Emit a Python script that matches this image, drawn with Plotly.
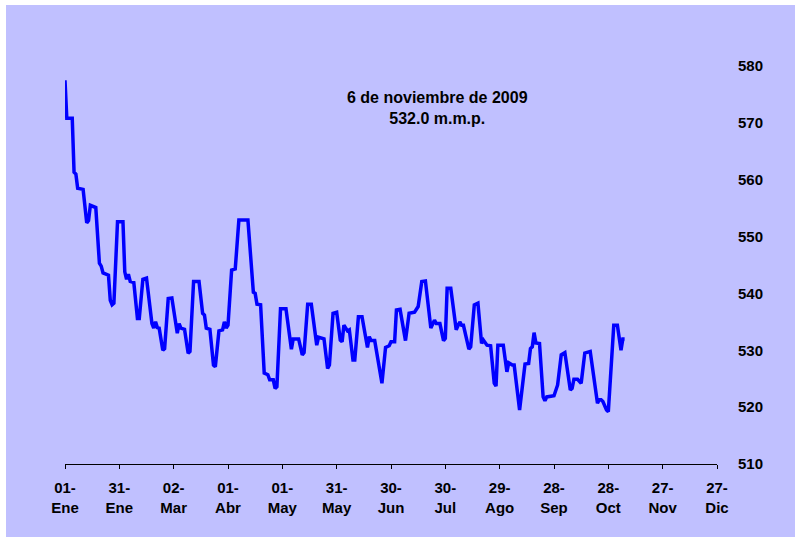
import plotly.graph_objects as go

dates = [
    "2009-01-01", "2009-01-02", "2009-01-05", "2009-01-06", "2009-01-07", "2009-01-08", "2009-01-11",
    "2009-01-13", "2009-01-14", "2009-01-15", "2009-01-18", "2009-01-20", "2009-01-21", "2009-01-22",
    "2009-01-25", "2009-01-26", "2009-01-27", "2009-01-28", "2009-01-30", "2009-02-02", "2009-02-03",
    "2009-02-04", "2009-02-05", "2009-02-06", "2009-02-08", "2009-02-10", "2009-02-11", "2009-02-13",
    "2009-02-15", "2009-02-18", "2009-02-19", "2009-02-20", "2009-02-21", "2009-02-22", "2009-02-24",
    "2009-02-25", "2009-02-27", "2009-03-01", "2009-03-04", "2009-03-05", "2009-03-06", "2009-03-08",
    "2009-03-10", "2009-03-11", "2009-03-13", "2009-03-16", "2009-03-18", "2009-03-19", "2009-03-20",
    "2009-03-22", "2009-03-24", "2009-03-25", "2009-03-27", "2009-03-29", "2009-03-30", "2009-03-31",
    "2009-04-01", "2009-04-03", "2009-04-05", "2009-04-07", "2009-04-12", "2009-04-14", "2009-04-15",
    "2009-04-16", "2009-04-17", "2009-04-19", "2009-04-21", "2009-04-23", "2009-04-24", "2009-04-26",
    "2009-04-27", "2009-04-28", "2009-04-30", "2009-05-03", "2009-05-06", "2009-05-07", "2009-05-10",
    "2009-05-12", "2009-05-13", "2009-05-15", "2009-05-17", "2009-05-20", "2009-05-21", "2009-05-24",
    "2009-05-26", "2009-05-27", "2009-05-29", "2009-05-31", "2009-06-02", "2009-06-03", "2009-06-04",
    "2009-06-06", "2009-06-07", "2009-06-09", "2009-06-10", "2009-06-12", "2009-06-14", "2009-06-17",
    "2009-06-18", "2009-06-19", "2009-06-21", "2009-06-25", "2009-06-27", "2009-06-29", "2009-06-30",
    "2009-07-02", "2009-07-03", "2009-07-05", "2009-07-08", "2009-07-10", "2009-07-13", "2009-07-15",
    "2009-07-17", "2009-07-19", "2009-07-22", "2009-07-24", "2009-07-25", "2009-07-27", "2009-07-29",
    "2009-07-30", "2009-07-31", "2009-08-02", "2009-08-05", "2009-08-07", "2009-08-08", "2009-08-09",
    "2009-08-12", "2009-08-13", "2009-08-15", "2009-08-17", "2009-08-19", "2009-08-20", "2009-08-22",
    "2009-08-24", "2009-08-26", "2009-08-27", "2009-08-28", "2009-08-31", "2009-09-02", "2009-09-03",
    "2009-09-05", "2009-09-06", "2009-09-09", "2009-09-12", "2009-09-14", "2009-09-15", "2009-09-16",
    "2009-09-17", "2009-09-18", "2009-09-20", "2009-09-22", "2009-09-23", "2009-09-24", "2009-09-28",
    "2009-09-30", "2009-10-02", "2009-10-04", "2009-10-07", "2009-10-08", "2009-10-09", "2009-10-11",
    "2009-10-13", "2009-10-15", "2009-10-18", "2009-10-22", "2009-10-23", "2009-10-24", "2009-10-25",
    "2009-10-27", "2009-10-28", "2009-10-31", "2009-11-02", "2009-11-04", "2009-11-05", "2009-11-06",
]

values = [
    577.5, 570.8, 570.8, 561.3, 561.0, 558.5, 558.3,
    552.4, 552.8, 555.5, 555.1, 545.3, 544.8, 543.6,
    543.2, 538.8, 538.0, 538.3, 552.6, 552.6, 543.8,
    542.5, 543.4, 542.1, 541.9, 535.6, 535.6, 542.5,
    542.7, 534.7, 533.9, 535.0, 534.0, 533.9, 530.0,
    530.3, 539.1, 539.2, 533.0, 534.7, 533.9, 533.7,
    529.5, 529.8, 542.1, 542.1, 536.5, 536.2, 533.9,
    533.7, 527.4, 527.1, 533.4, 533.6, 535.0, 533.9,
    534.4, 544.1, 544.3, 552.9, 552.9, 545.6, 540.2,
    540.0, 538.1, 538.0, 526.0, 525.7, 524.8, 524.8,
    523.3, 523.6, 537.3, 537.3, 530.2, 532.0, 532.0,
    529.2, 529.6, 538.1, 538.1, 530.9, 532.3, 532.0,
    526.8, 527.4, 536.5, 536.7, 531.8, 531.5, 534.4,
    533.4, 533.6, 528.3, 528.3, 535.9, 535.9, 530.5,
    532.4, 531.7, 531.7, 524.2, 530.5, 530.8, 531.5,
    531.5, 537.1, 537.2, 531.7, 536.5, 536.7, 537.7,
    542.1, 542.2, 533.9, 535.3, 534.7, 534.7, 531.7,
    532.1, 540.9, 540.9, 533.6, 535.0, 534.4, 534.4,
    530.2, 530.6, 538.0, 538.3, 531.2, 531.8, 530.9,
    530.8, 524.2, 523.7, 530.9, 530.9, 526.2, 527.8,
    527.4, 527.4, 519.5, 527.6, 527.7, 530.3, 530.6,
    533.1, 531.3, 531.2, 521.8, 521.1, 521.8, 522.0,
    523.9, 529.2, 529.6, 523.0, 523.3, 524.9, 524.9,
    524.2, 529.5, 529.8, 520.7, 521.3, 521.3, 521.0,
    519.5, 519.2, 534.4, 534.4, 530.0, 532.0, 532.0,
]

tick_dates = ["2009-01-01", "2009-01-31", "2009-03-02", "2009-04-01", "2009-05-01", "2009-05-31",
              "2009-06-30", "2009-07-30", "2009-08-29", "2009-09-28", "2009-10-28", "2009-11-27",
              "2009-12-27"]
tick_labels = ["01-<br>Ene", "31-<br>Ene", "02-<br>Mar", "01-<br>Abr", "01-<br>May", "31-<br>May",
               "30-<br>Jun", "30-<br>Jul", "29-<br>Ago", "28-<br>Sep", "28-<br>Oct", "27-<br>Nov",
               "27-<br>Dic"]
y_ticks = [510, 520, 530, 540, 550, 560, 570, 580]

note_lines = ["6 de noviembre de 2009", "532.0 m.m.p."]

FONT = "Arial, Liberation Sans, sans-serif"
BG = "rgb(192,192,255)"

fig = go.Figure()
fig.add_trace(go.Scatter(x=dates, y=values, mode="lines",
                         line=dict(color="#0000FF", width=3.5), hoverinfo="skip"))

fig.update_layout(
    width=795, height=544,
    margin=dict(l=65, r=78, t=66, b=80),
    paper_bgcolor="white",
    plot_bgcolor="rgba(0,0,0,0)",
    showlegend=False,
    font=dict(family=FONT, size=15, color="black"),
    shapes=[dict(type="rect", xref="paper", yref="paper",
                 x0=-0.0905, x1=1.12, y0=-0.1834, y1=1.1533,
                 fillcolor=BG, line=dict(width=0), layer="below")],
    xaxis=dict(
        type="date",
        range=["2009-01-01", "2009-12-27"],
        tickmode="array", tickvals=tick_dates, ticktext=tick_labels,
        showgrid=False, zeroline=False,
        showline=True, linecolor="black", linewidth=1,
        ticks="outside", ticklen=4, tickcolor="black", tickwidth=1,
        tickfont=dict(family=FONT, size=15, color="black", weight="bold"),
        ticklabelstandoff=6,
    ),
    yaxis=dict(
        side="right",
        range=[510, 580],
        tickmode="array", tickvals=y_ticks,
        showgrid=False, zeroline=False, showline=False,
        ticks="",
        tickfont=dict(family=FONT, size=15, color="black", weight="bold"),
        ticklabelstandoff=20,
    ),
    annotations=[dict(
        x=0.5706, y=0.8957, xref="paper", yref="paper",
        xanchor="center", yanchor="middle",
        text="<b>" + note_lines[0] + "</b><br><b>" + note_lines[1] + "</b>",
        showarrow=False, align="center",
        font=dict(family=FONT, size=16, color="black"),
    )],
)

fig.write_html(
    "out.html",
    config={"displayModeBar": False},
    post_script="document.body.style.margin='0';document.body.style.overflow='hidden';",
)
